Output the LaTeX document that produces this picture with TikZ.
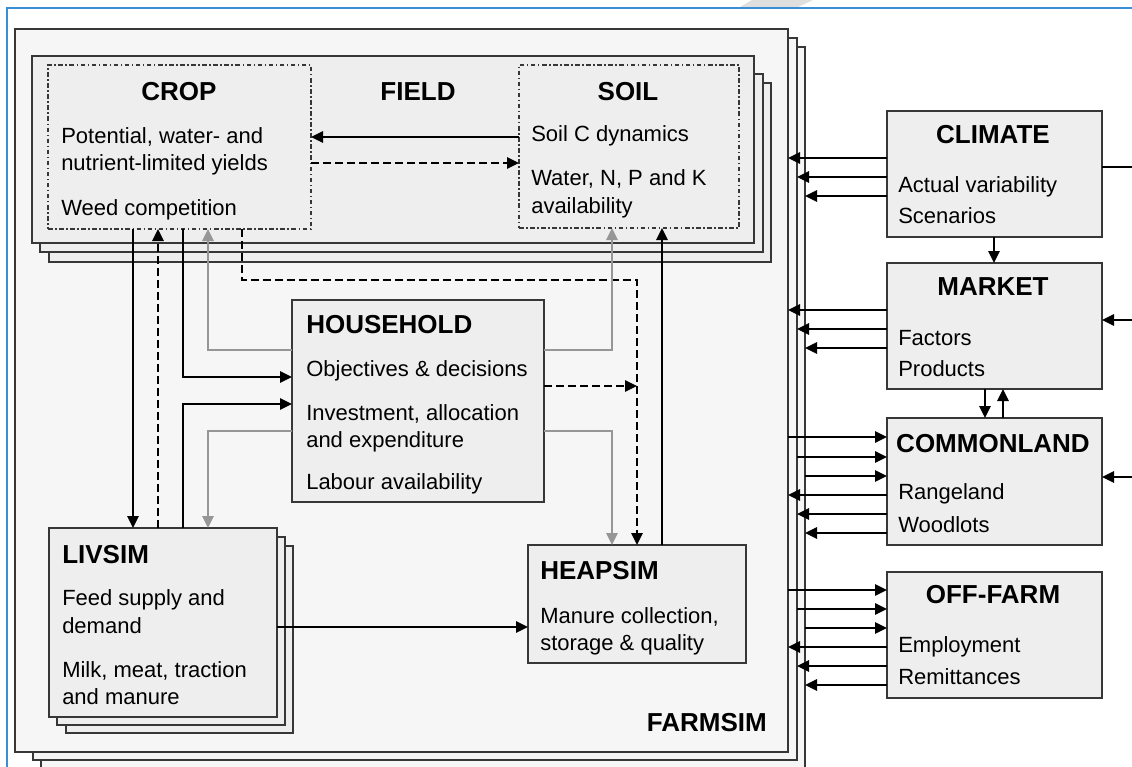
\documentclass[tikz,border=0pt]{standalone}
\usepackage{fontspec}
\setmainfont{Liberation Sans}
\usetikzlibrary{arrows.meta,fit}
\definecolor{frameblue}{RGB}{58,142,214}
\definecolor{boxfill}{RGB}{238,238,238}
\definecolor{farmfill}{RGB}{246,246,246}
\definecolor{edge}{RGB}{55,55,55}
\definecolor{gline}{RGB}{150,150,150}
\begin{document}
\begin{tikzpicture}[x=0.75pt,y=-0.75pt,
  box/.style={draw=edge, line width=1.4pt, fill=boxfill, inner sep=0pt, outer sep=0pt},
  farmbox/.style={box, fill=farmfill},
  subbox/.style={draw=edge, line width=1.1pt, dash pattern=on 3.4pt off 1.9pt on 1.1pt off 1.9pt, inner sep=0pt, outer sep=0pt},
  ttl/.style={font=\fontsize{19.5}{22}\selectfont\bfseries, inner sep=0pt, anchor=base},
  ttlw/.style={ttl, anchor=base west},
  txt/.style={font=\fontsize{16.5}{19}\selectfont, inner sep=0pt, anchor=base west},
  con/.style={draw=black, line width=1.3pt},
  arr/.style={con, -{Triangle[length=9pt,width=8.5pt]}},
  dsh/.style={con, dash pattern=on 6pt off 3pt},
  darr/.style={arr, dash pattern=on 6pt off 3pt},
  garr/.style={draw=gline, line width=1.3pt, -{Triangle[length=9pt,width=8.5pt]}},
]
\useasboundingbox (0,0) rectangle (1132,767);
% page frame
\fill[gray!25] (740,7) -- (752,0) -- (813,0) -- (798,7) -- cycle;
\draw[frameblue, line width=0.8pt] (7,767) -- (7,8) -- (1132,8);

% FARMSIM stack
\node[farmbox, fit={(41,47) (805,775)}] (farm3) {};
\node[farmbox, fit={(33,38) (797,760)}] (farm2) {};
\node[farmbox, fit={(15,29) (788,752)}] (farm1) {};
\node[ttl, anchor=base east] (farmttl) at (767,731) {FARMSIM};

% FIELD stack
\node[box, fit={(49,83) (771,262)}] (field3) {};
\node[box, fit={(40,74) (763,252)}] (field2) {};
\node[box, fit={(32,56) (754,243)}] (field1) {};
\node[ttl] (fieldttl) at (418,100) {FIELD};

% CROP and SOIL
\node[subbox, fit={(48,65) (311,229)}] (crop) {};
\node[ttl] (cropttl) at (179,100) {CROP};
\node[txt] (crop1) at (61,143) {Potential, water- and};
\node[txt] (crop2) at (61,170) {nutrient-limited yields};
\node[txt] (crop3) at (61,215) {Weed competition};

\node[subbox, fit={(519,65) (739,228)}] (soil) {};
\node[ttl] (soilttl) at (628,100) {SOIL};
\node[txt] (soil1) at (531,142) {Soil C dynamics};
\node[txt] (soil2) at (531,185) {Water, N, P and K};
\node[txt] (soil3) at (531,213) {availability};

% HOUSEHOLD
\node[box, fit={(292,300) (544,502)}] (hh) {};
\node[ttlw] (hhttl) at (306,333) {HOUSEHOLD};
\node[txt] (hh1) at (306,376) {Objectives \& decisions};
\node[txt] (hh2) at (306,420) {Investment, allocation};
\node[txt] (hh3) at (306,447) {and expenditure};
\node[txt] (hh4) at (306,489) {Labour availability};

% LIVSIM stack
\node[box, fit={(66,546) (293,733)}] (liv3) {};
\node[box, fit={(57,537) (285,725)}] (liv2) {};
\node[box, fit={(49,528) (277,717)}] (liv) {};
\node[ttlw] (livttl) at (62,563) {LIVSIM};
\node[txt] (liv1) at (62,605) {Feed supply and};
\node[txt] (liv2t) at (62,633) {demand};
\node[txt] (liv3t) at (62,677) {Milk, meat, traction};
\node[txt] (liv4t) at (62,704) {and manure};

% HEAPSIM
\node[box, fit={(528,545) (746,663)}] (heap) {};
\node[ttlw] (heapttl) at (540,579) {HEAPSIM};
\node[txt] (heap1) at (540,623) {Manure collection,};
\node[txt] (heap2) at (540,650) {storage \& quality};

% external boxes
\node[box, fit={(887,111) (1102,237)}] (clim) {};
\node[ttl] (climttl) at (993,143) {CLIMATE};
\node[txt] (clim1) at (898,192) {Actual variability};
\node[txt] (clim2) at (898,223) {Scenarios};

\node[box, fit={(887,263) (1102,389)}] (mkt) {};
\node[ttl] (mktttl) at (993,295) {MARKET};
\node[txt] (mkt1) at (898,345) {Factors};
\node[txt] (mkt2) at (898,376) {Products};

\node[box, fit={(887,418) (1102,545)}] (com) {};
\node[ttl] (comttl) at (993,452) {COMMONLAND};
\node[txt] (com1) at (898,499) {Rangeland};
\node[txt] (com2) at (898,532) {Woodlots};

\node[box, fit={(887,572) (1102,698)}] (off) {};
\node[ttl] (offttl) at (993,603) {OFF-FARM};
\node[txt] (off1) at (898,652) {Employment};
\node[txt] (off2) at (898,684) {Remittances};

% free ends
\coordinate (rEdge) at (1132,0);
\coordinate (dj) at (637,386);

% --- internal connectors ---
\draw[arr] (soil.west |- 0,137) -- (crop.east |- 0,137);
\draw[darr] (crop.east |- 0,163) -- (soil.west |- 0,163);
\draw[arr] (crop.south -| 133,0) -- (liv.north -| 133,0);
\draw[darr] (liv.north -| 158,0) -- (crop.south -| 158,0);
\draw[arr] (crop.south -| 183,0) |- (hh.west |- 0,377);
\draw[garr] (hh.west |- 0,350) -| (crop.south -| 208,0);
\draw[darr] (crop.south -| 242,0) |- (637,280) -- (heap.north -| 637,0);
\draw[darr] (hh.east |- dj) -- (dj);
\draw[garr] (hh.east |- 0,350) -| (soil.south -| 612,0);
\draw[garr] (hh.east |- 0,431) -| (heap.north -| 612,0);
\draw[arr] (heap.north -| 662,0) -- (soil.south -| 662,0);
\draw[arr] (liv.north -| 183,0) |- (hh.west |- 0,404);
\draw[garr] (hh.west |- 0,431) -| (liv.north -| 208,0);
\draw[arr] (liv.east |- 0,627) -- (heap.west |- 0,627);

% --- external connectors ---
\draw[arr] (clim.west |- 0,158) -- (farm1.east |- 0,158);
\draw[arr] (clim.west |- 0,177) -- (farm2.east |- 0,177);
\draw[arr] (clim.west |- 0,196) -- (farm3.east |- 0,196);
\draw[con] (clim.east |- 0,167) -- (rEdge |- 0,167);
\draw[arr] (clim.south -| 994,0) -- (mkt.north -| 994,0);

\draw[arr] (mkt.west |- 0,310) -- (farm1.east |- 0,310);
\draw[arr] (mkt.west |- 0,329) -- (farm2.east |- 0,329);
\draw[arr] (mkt.west |- 0,348) -- (farm3.east |- 0,348);
\draw[arr] (rEdge |- 0,320) -- (mkt.east |- 0,320);
\draw[arr] (mkt.south -| 985,0) -- (com.north -| 985,0);
\draw[arr] (com.north -| 1003,0) -- (mkt.south -| 1003,0);

\draw[arr] (farm1.east |- 0,437) -- (com.west |- 0,437);
\draw[arr] (farm2.east |- 0,457) -- (com.west |- 0,457);
\draw[arr] (farm3.east |- 0,476) -- (com.west |- 0,476);
\draw[arr] (com.west |- 0,495) -- (farm1.east |- 0,495);
\draw[arr] (com.west |- 0,514) -- (farm2.east |- 0,514);
\draw[arr] (com.west |- 0,533) -- (farm3.east |- 0,533);
\draw[arr] (rEdge |- 0,477) -- (com.east |- 0,477);

\draw[arr] (farm1.east |- 0,590) -- (off.west |- 0,590);
\draw[arr] (farm2.east |- 0,609) -- (off.west |- 0,609);
\draw[arr] (farm3.east |- 0,628) -- (off.west |- 0,628);
\draw[arr] (off.west |- 0,647) -- (farm1.east |- 0,647);
\draw[arr] (off.west |- 0,666) -- (farm2.east |- 0,666);
\draw[arr] (off.west |- 0,685) -- (farm3.east |- 0,685);
\end{tikzpicture}
\end{document}
